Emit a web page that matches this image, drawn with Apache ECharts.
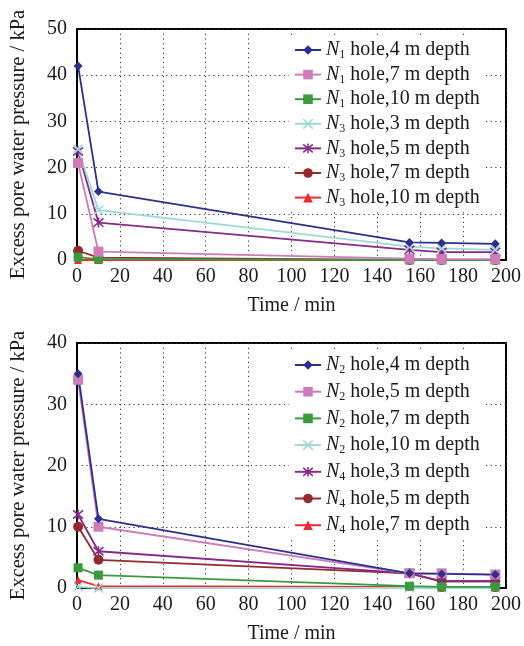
<!DOCTYPE html>
<html><head><meta charset="utf-8">
<script src="https://cdn.jsdelivr.net/npm/echarts@6/dist/echarts.min.js"></script>
<style>html,body{margin:0;padding:0;background:#fff}#c{width:524px;height:646px}</style>
</head><body><div id="c"></div>
<script>
const times = [0.5, 10, 155, 170, 195];
// Top panel
const topNames = ['N1 hole,4 m depth','N1 hole,7 m depth','N1 hole,10 m depth','N3 hole,3 m depth','N3 hole,5 m depth','N3 hole,7 m depth','N3 hole,10 m depth'];
const n1_4 = [42, 14.8, 3.8, 3.7, 3.5];
const n1_7 = [21, 1.8, 0.3, 0.2, 0.2];
const n1_10 = [0.6, 0.2, 0, 0, 0];
const n3_3 = [24, 10.8, 2.9, 2.5, 2.2];
const n3_5 = [23.5, 8.1, 2.2, 1.7, 1.7];
const n3_7 = [2, 0.5, 0, 0, 0];
const n3_10 = [0, 0, 0, 0, 0];
// Bottom panel
const botNames = ['N2 hole,4 m depth','N2 hole,5 m depth','N2 hole,7 m depth','N2 hole,10 m depth','N4 hole,3 m depth','N4 hole,5 m depth','N4 hole,7 m depth'];
const n2_4 = [35, 11.3, 2.4, 2.3, 2.2];
const n2_5 = [34, 10, 2.4, 2.4, 2.2];
const n2_7 = [3.3, 2.1, 0.3, 0.2, 0.2];
const n2_10 = [0.2, 0, 0, 0, 0];
const n4_3 = [12, 6, 2.4, 1.1, 1.1];
const n4_5 = [10, 4.6, 2.4, 1.1, 1.1];
const n4_7 = [1.3, 0.3, 0.2, 0, 0];

const FONT = '"Liberation Serif","DejaVu Serif",serif';
const TXT = '#1a1a1a';
const cBlue='#2d2f8f', cPink='#cf7bb8', cGreen='#3a9a3e', cCyan='#9ed8d8', cPurple='#86298a', cDark='#952a2c', cRed='#ee2b2e';
const crossPath = 'path://M0,0L10,10M10,0L0,10';
const starPath = 'path://M0,0L10,10M10,0L0,10M5,-1L5,11';

const styles = [
  {c:cBlue, sym:'diamond', size:9},
  {c:cPink, sym:'rect', size:10},
  {c:cGreen, sym:'rect', size:9},
  {c:cCyan, sym:crossPath, size:9, stroke:true},
  {c:cPurple, sym:starPath, size:10, stroke:true},
  {c:cDark, sym:'circle', size:10},
  {c:cRed, sym:'triangle', size:8}
];

function mk(name, vals, st, idx){
  return {
    name, type:'line', xAxisIndex:idx, yAxisIndex:idx,
    data: times.map((t,i)=>[t, vals[i]]),
    symbol: st.sym, symbolSize: st.size,
    lineStyle:{color:st.c, width:1.8},
    itemStyle: st.stroke ? {color:st.c, borderColor:st.c, borderWidth:1.6} : {color:st.c, borderWidth:0},
    animation:false
  };
}

const topVals = [n1_4,n1_7,n1_10,n3_3,n3_5,n3_7,n3_10];
const botVals = [n2_4,n2_5,n2_7,n2_10,n4_3,n4_5,n4_7];
const series = [];
for (let i=topVals.length-1;i>=0;i--) series.push(mk(topNames[i], topVals[i], styles[i], 0));
for (let i=botVals.length-1;i>=0;i--) series.push(mk(botNames[i], botVals[i], styles[i], 1));

function legData(names){
  return names.map((n,i)=>{
    const st = styles[i];
    return st.stroke ? {name:n, itemStyle:{color:st.c, borderColor:st.c, borderWidth:1.5}} : {name:n};
  });
}
function legFmt(name){
  const m = name.match(/^N(\d)(.*)$/);
  return '{n|N}{s|'+m[1]+'}{t|'+m[2]+'}';
}
const legText = {
  fontFamily: FONT, fontSize:20, color:TXT, lineHeight:22,
  rich:{
    n:{fontFamily:FONT, fontSize:20, fontStyle:'italic', color:TXT, lineHeight:22},
    s:{fontFamily:FONT, fontSize:12, color:TXT, verticalAlign:'bottom', padding:[10,0,0,0], lineHeight:22},
    t:{fontFamily:FONT, fontSize:20, color:TXT, lineHeight:22}
  }
};

function xAx(idx){
  return {
    type:'value', gridIndex:idx, min:0, max:200, interval:20,
    name:'Time / min', nameLocation:'middle', nameGap:36,
    nameTextStyle:{fontFamily:FONT, fontSize:20, color:TXT},
    axisLine:{show:true, lineStyle:{color:'#000', width:2}},
    axisTick:{show:false},
    axisLabel:{fontFamily:FONT, fontSize:20, color:TXT, margin:7},
    splitLine:{show:true, lineStyle:{color:'#333', type:[1.2,3.5], width:1}}
  };
}
function yAx(idx, max){
  return {
    type:'value', gridIndex:idx, min:0, max:max, interval:10,
    name:'Excess pore water pressure / kPa', nameLocation:'middle', nameGap:48,
    nameTextStyle:{fontFamily:FONT, fontSize:20.5, color:TXT},
    axisLine:{show:true, lineStyle:{color:'#000', width:2}},
    axisTick:{show:false},
    axisLabel:{fontFamily:FONT, fontSize:20, color:TXT, margin:10},
    splitLine:{show:true, lineStyle:{color:'#333', type:[1.2,3.5], width:1}}
  };
}

const option = {
  backgroundColor:'#fff',
  animation:false,
  grid:[
    {left:76, top:29, width:434, height:231, show:true, borderColor:'#000', borderWidth:2, backgroundColor:'transparent'},
    {left:76, top:343, width:434, height:245, show:true, borderColor:'#000', borderWidth:2, backgroundColor:'transparent'}
  ],
  xAxis:[xAx(0), xAx(1)],
  yAxis:[yAx(0,50), yAx(1,40)],
  legend:[
    {data:legData(topNames), left:289, top:37, orient:'vertical', itemWidth:26, itemHeight:12, itemGap:2.6,
     backgroundColor:'#fff', padding:[2,6,2,5], formatter:legFmt, textStyle:legText},
    {data:legData(botNames), left:289, top:352, orient:'vertical', itemWidth:26, itemHeight:12, itemGap:4.7,
     backgroundColor:'#fff', padding:[2,6,2,5], formatter:legFmt, textStyle:legText}
  ],
  series
};
const chart = echarts.init(document.getElementById('c'), null, {renderer:'canvas'});
chart.setOption(option);
</script></body></html>
